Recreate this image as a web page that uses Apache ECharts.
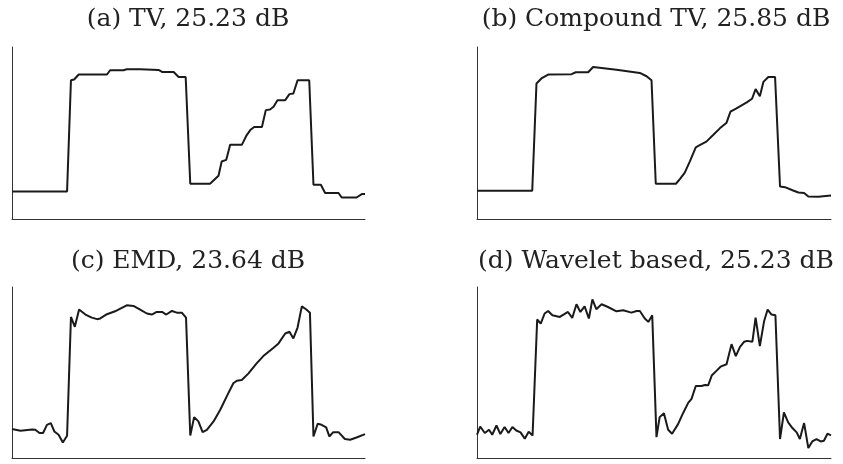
<!DOCTYPE html>
<html>
<head>
<meta charset="utf-8">
<script src="https://cdn.jsdelivr.net/npm/echarts@6/dist/echarts.min.js"></script>
<style>
  html, body { margin: 0; padding: 0; background: #fff; }
  #chart { width: 843px; height: 464px; }
</style>
</head>
<body>
<div id="chart"></div>
<script>
// titles of the four panels
var titles = ['(a) TV, 25.23 dB', '(b) Compound TV, 25.85 dB', '(c) EMD, 23.64 dB', '(d) Wavelet based, 25.23 dB'];

// reconstructed signals, [sample position, amplitude]
var tvData = [[0,16.0],[15.6,16.0],[16.7,80.7],[17.6,81.1],[18.9,84.0],[26.9,84.0],[27.8,86.5],[31.6,86.5],[32.5,87.1],
  [36.3,87.1],[41.5,86.7],[42.5,85.5],[45.8,85.5],[47.2,82.6],[49.2,82.6],[50.5,20.5],[56.1,20.5],[58.5,25.1],
  [59.4,33.4],[60.7,34.4],[61.8,43.1],[65.1,43.1],[66.5,48.8],[67.5,51.7],[68.6,53.5],[70.8,53.5],[71.9,63.3],
  [73.1,63.7],[74.1,65.3],[75.2,69.1],[77.4,69.1],[78.6,72.6],[79.7,73.0],[80.9,80.7],[84.2,80.7],[85.4,19.9],
  [87.5,19.9],[88.7,15.1],[92.5,15.1],[93.4,12.5],[97.6,12.5],[99.1,14.5],[100,14.5]];

var ctvData = [[0,16.4],[15.6,16.4],[16.8,78.8],[18.2,81.7],[20.1,84.0],[26.7,84.2],[27.9,85.3],[31.4,85.3],[32.8,88.4],
  [39.4,86.8],[46.0,84.9],[47.9,83.0],[49.3,80.7],[50.5,20.5],[56.2,20.5],[57.3,23.2],[58.7,27.0],[60.1,33.4],
  [61.8,41.7],[62.9,42.9],[64.8,45.0],[66.7,48.8],[68.6,52.7],[70.5,56.0],[71.6,62.4],[73.3,64.3],[76.2,67.8],
  [77.7,69.9],[78.7,75.5],[79.9,71.4],[80.9,79.7],[82.3,82.6],[84.2,82.6],[85.6,18.9],[87.0,18.5],[89.3,16.6],
  [90.8,15.4],[92.4,15.1],[93.6,13.1],[96.4,12.9],[100,13.7]];

var emdData = [[0,16.9],[2.4,15.9],[5.7,16.7],[6.6,16.5],[7.8,14.6],[8.8,14.6],[9.9,19.4],[11.0,20.4],[12.0,15.5],
  [13.2,13.6],[14.4,9.1],[15.6,13.0],[16.7,82.5],[17.8,76.7],[19.0,86.8],[20.8,83.9],[22.6,82.1],[24.1,81.2],
  [25.0,81.6],[26.9,84.1],[29.2,85.8],[30.7,87.4],[32.5,89.3],[34.4,88.9],[36.3,86.8],[38.2,84.5],[39.6,83.9],
  [41.0,85.4],[42.5,85.4],[43.7,83.9],[45.3,86.0],[46.7,85.0],[48.1,85.0],[49.3,82.1],[50.5,13.2],[51.6,23.9],
  [52.8,21.4],[54.0,15.1],[55.2,16.5],[57.1,21.4],[59.0,28.2],[60.8,35.9],[62.7,43.7],[63.7,45.2],[65.1,45.6],
  [67.0,49.5],[69.3,55.3],[71.2,59.6],[74.1,64.5],[75.5,67.0],[77.4,72.8],[78.6,73.8],[79.7,69.9],[80.9,76.3],
  [82.1,88.7],[83.3,87.0],[84.4,85.0],[85.4,12.6],[86.6,20.0],[87.7,19.4],[89.0,17.9],[89.9,12.6],[91.0,15.1],
  [92.5,15.1],[94.3,11.1],[95.8,10.7],[97.6,12.0],[100,14.0]];

var waveletData = [[0,13.6],[0.9,18.4],[2.2,14.6],[3.4,16.5],[4.3,13.6],[5.5,19.0],[6.6,14.0],[7.8,18.1],[8.9,14.6],
  [10.0,18.1],[11.1,16.1],[12.3,15.0],[13.5,11.3],[14.6,15.3],[15.7,13.2],[17.0,81.0],[18.0,78.6],[19.1,84.5],
  [20.1,86.0],[21.3,83.5],[23.4,82.5],[25.7,85.4],[26.9,81.9],[28.1,89.9],[29.2,85.4],[30.4,88.7],[31.6,81.6],
  [32.6,92.8],[33.7,87.0],[35.2,89.9],[37.0,88.3],[39.4,85.8],[41.3,86.4],[43.6,85.0],[45.1,86.0],[46.0,86.0],
  [47.4,81.6],[48.4,79.6],[49.5,83.5],[50.7,12.2],[51.6,23.9],[52.8,26.2],[54.0,16.5],[55.1,14.2],[56.8,19.8],
  [58.2,26.2],[59.7,32.4],[60.6,34.6],[61.8,42.1],[63.4,42.1],[64.4,42.7],[65.3,42.5],[66.3,48.2],[67.7,51.1],
  [68.8,53.4],[70.5,54.8],[71.0,55.3],[71.9,66.6],[73.1,59.6],[74.3,65.0],[75.5,68.0],[76.3,68.5],[77.8,68.0],
  [78.7,82.1],[79.9,65.4],[81.1,80.0],[82.1,86.8],[83.2,83.9],[84.3,83.5],[85.6,11.1],[86.7,26.6],[87.9,20.8],
  [89.1,17.5],[90.3,15.0],[91.2,11.1],[92.4,20.4],[93.6,5.8],[94.7,9.7],[95.9,11.1],[97.1,9.7],[98.0,10.1],
  [99.0,14.2],[100,13.2]];

var panels = [tvData, ctvData, emdData, waveletData];

var chart = echarts.init(document.getElementById('chart'));

var grids = [
  {left: 12, top: 47, width: 353, height: 172},
  {left: 477, top: 47, width: 354, height: 172},
  {left: 12, top: 287, width: 353, height: 171},
  {left: 477, top: 287, width: 354, height: 171}
];
var titleX = [188, 656, 188, 656];
var titleY = [4, 4, 246, 246];

var axisLine = {show: true, lineStyle: {color: '#333', width: 1}};

option = {
  backgroundColor: '#fff',
  animation: false,
  title: titles.map(function (t, i) {
    return {
      text: t,
      left: titleX[i],
      top: titleY[i],
      textAlign: 'center',
      padding: 0,
      textStyle: {fontFamily: 'DejaVu Serif', fontWeight: 'normal', fontSize: 25, lineHeight: 30, color: '#222'}
    };
  }),
  grid: grids,
  xAxis: grids.map(function (g, i) {
    return {type: 'value', gridIndex: i, min: 0, max: 100, axisLine: axisLine,
      axisTick: {show: false}, axisLabel: {show: false}, splitLine: {show: false}};
  }),
  yAxis: grids.map(function (g, i) {
    return {type: 'value', gridIndex: i, min: 0, max: 100, axisLine: axisLine,
      axisTick: {show: false}, axisLabel: {show: false}, splitLine: {show: false}};
  }),
  series: panels.map(function (d, i) {
    return {
      type: 'line',
      xAxisIndex: i,
      yAxisIndex: i,
      data: d,
      showSymbol: false,
      lineStyle: {color: '#1a1a1a', width: 2},
      itemStyle: {color: '#1a1a1a'}
    };
  })
};

chart.setOption(option);
</script>
</body>
</html>
